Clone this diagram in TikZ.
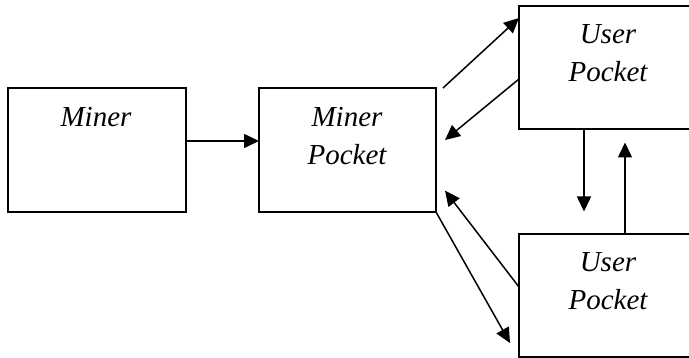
\documentclass[tikz,border=0pt]{standalone}
\usepackage{fontspec}
\setmainfont{Liberation Serif}
\usetikzlibrary{arrows.meta,calc}
\begin{document}
\begin{tikzpicture}[x=1pt,y=-1pt,
  box/.style={draw,line width=1.6pt,minimum width=178pt,minimum height=124pt,inner sep=0pt,outer sep=0pt},
  lbl/.style={font=\fontsize{29}{38}\selectfont\itshape,align=center,anchor=base,inner sep=0pt},
  conn/.style={line width=1.5pt,-{Triangle[length=15pt,width=14pt]}}]
\useasboundingbox (0,0) rectangle (689,358);
\clip (0,0) rectangle (689,358);
\node[box] (m)  at (97,150) {};
\node[box,minimum width=177pt] (mp) at (347.5,150) {};
\node[box,minimum height=123pt] (u1) at (608,67.5) {};
\node[box,minimum height=123pt] (u2) at (608,295.5) {};
\node[lbl] (tm)  at (96,127) {Miner};
\node[lbl] (tmp) at (347,165) {Miner\\Pocket};
\node[lbl] (tu1) at (608,82) {User\\Pocket};
\node[lbl] (tu2) at (608,310) {User\\Pocket};
\draw[conn] ($(m.east)+(0,-9)$) -- ($(mp.west)+(0,-9)$);
\draw[conn] ($(mp.north east)+(7,0)$) -- ($(u1.north west)+(0,12)$);
\draw[conn] ($(u1.west)+(0,11.5)$) -- ($(mp.east)+(9,-10)$);
\draw[conn] ($(u2.west)+(0,-8.5)$) -- ($(mp.east)+(9,40.7)$);
\draw[conn] (mp.south east) -- ($(u2.south west)+(-9,-14)$);
\draw[conn] ($(u1.south)+(-24,0)$) -- ($(u2.north)+(-24,-22.5)$);
\draw[conn] ($(u2.north)+(17,0)$) -- ($(u1.south)+(17,13.5)$);
\end{tikzpicture}
\end{document}
